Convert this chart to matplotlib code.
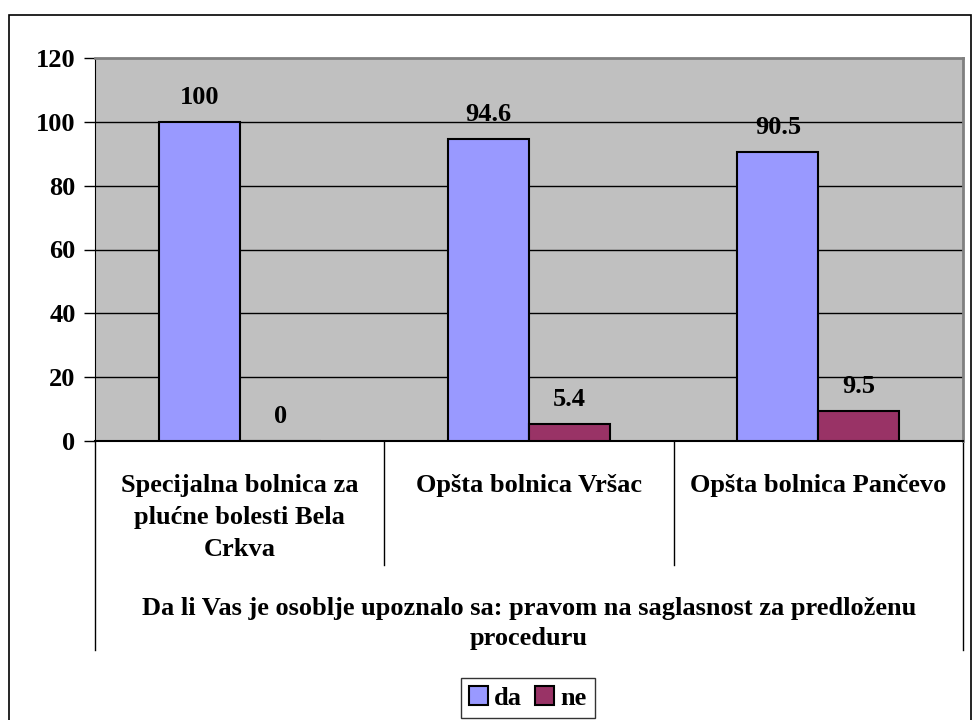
import matplotlib
matplotlib.use("Agg")
import matplotlib.pyplot as plt
from matplotlib.patches import Rectangle, Patch
import numpy as np

# --- data ---
categories = ["Specijalna bolnica za\nplućne bolesti Bela\nCrkva",
              "Opšta bolnica Vršac",
              "Opšta bolnica Pančevo"]
group_label = "Da li Vas je osoblje upoznalo sa: pravom na saglasnost za predloženu\nproceduru"
da_values = [100, 94.6, 90.5]
ne_values = [0, 5.4, 9.5]
series_names = ["da", "ne"]
y_ticks = [0, 20, 40, 60, 80, 100, 120]

plt.rcParams['font.family'] = ['Liberation Serif', 'DejaVu Serif']
plt.rcParams['font.weight'] = 'bold'
FS = 19

W, H = 973, 720
fig = plt.figure(figsize=(W / 100, H / 100), dpi=100)

# outer chart border
fig.patches.append(Rectangle((9 / W, -0.01), 962 / W, 1 - 15 / H + 0.01,
                             transform=fig.transFigure, fill=False,
                             edgecolor='black', linewidth=1.2))

ax_l, ax_r, ax_t, ax_b = 95, 963, 58, 441
ax = fig.add_axes([ax_l / W, 1 - ax_b / H, (ax_r - ax_l) / W, (ax_b - ax_t) / H])
ax.set_facecolor('#C0C0C0')

x = np.arange(len(categories))
bw = 0.28
off = 0.14
ax.bar(x - off, da_values, bw, color='#9999FF', edgecolor='black', linewidth=1.5, zorder=3)
ax.bar(x + off, ne_values, bw, color='#993366', edgecolor='black', linewidth=1.5, zorder=3)

# value labels, baseline ~18 px above bar top
for xs, vals in [(x - off, da_values), (x + off, ne_values)]:
    for xi, v in zip(xs, vals):
        ax.annotate(f"{v:g}", (xi, v), xytext=(0, 13), textcoords='offset points',
                    ha='center', va='baseline', fontsize=FS, fontweight='bold', zorder=4)

ax.set_xlim(-0.5, 2.5)
ax.set_ylim(0, 120)
ax.set_yticks(y_ticks)
ax.set_yticklabels([str(t) for t in y_ticks], fontsize=FS, fontweight='bold')
ax.tick_params(axis='y', direction='out', length=8, width=1, pad=6)
ax.set_xticks([])
for yv in y_ticks[1:-1]:
    ax.axhline(yv, color='black', linewidth=1, zorder=1)

ax.spines['left'].set_color('black')
ax.spines['bottom'].set_color('black')
ax.spines['bottom'].set_linewidth(1.5)
ax.spines['top'].set_color('#808080')
ax.spines['right'].set_color('#808080')
ax.spines['top'].set_linewidth(2)
ax.spines['right'].set_linewidth(2)

# category separators below the axis
ah = ax_b - ax_t
inner = -(565 - ax_b) / ah
outer = -(650 - ax_b) / ah
trans = ax.get_xaxis_transform()
for xb in [0.5, 1.5]:
    ax.plot([xb, xb], [0, inner], color='black', linewidth=1, transform=trans, clip_on=False)
for xb in [-0.5, 2.5]:
    ax.plot([xb, xb], [0, outer], color='black', linewidth=1, transform=trans, clip_on=False)

for xi, lab in zip(x, categories):
    ax.text(xi, -(474 - ax_b) / ah, lab, transform=trans, ha='center', va='top',
            fontsize=FS, fontweight='bold', linespacing=1.5)

ax.text(1, -(597 - ax_b) / ah, group_label, transform=trans, ha='center', va='top',
        fontsize=FS, fontweight='bold', linespacing=1.39)

handles = [Patch(facecolor='#9999FF', edgecolor='black', linewidth=1.5),
           Patch(facecolor='#993366', edgecolor='black', linewidth=1.5)]
leg = fig.legend(handles, series_names, loc='center', bbox_to_anchor=(528 / W, 1 - 698 / H),
                 ncol=2, frameon=True, fancybox=False, edgecolor='black',
                 handlelength=0.7, handleheight=0.7, handletextpad=0.25, columnspacing=0.5,
                 borderpad=0.3, borderaxespad=0, prop={'weight': 'bold', 'size': FS})
leg.get_frame().set_linewidth(1)

fig.savefig("out.png", dpi=100)
